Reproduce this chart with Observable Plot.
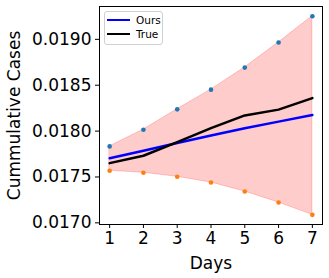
<!DOCTYPE html>
<html><head><meta charset="utf-8">
<script src="https://cdn.jsdelivr.net/npm/d3@7"></script>
<script src="https://cdn.jsdelivr.net/npm/@observablehq/plot@0.6"></script>
<style>
body{margin:0;background:#fff;font-family:"DejaVu Sans",sans-serif;}
#wrap{position:relative;width:329px;height:278px;}
#legend{position:absolute;left:104px;top:11px;width:57px;height:32px;border:1px solid #d0d0d0;border-radius:3px;background:rgba(255,255,255,0.8);font:10.5px "DejaVu Sans",sans-serif;z-index:2;}
.row{position:absolute;left:2px;display:flex;align-items:center;}
.sw{width:23px;height:0;border-top:2.5px solid;margin-right:6px;}
</style></head>
<body><div id="wrap"><div id="legend"><div class="row" style="top:2px"><span class="sw" style="border-color:#0000ff"></span>Ours</div><div class="row" style="top:16px"><span class="sw" style="border-color:#000"></span>True</div></div></div>
<script>
const days = [1,2,3,4,5,6,7];
const upper = [0.017833,0.018015,0.018237,0.018452,0.018692,0.018965,0.019252];
const lower = [0.017568,0.017546,0.017502,0.017440,0.017342,0.017222,0.017087];
const ours = [0.017705,0.017786,0.017870,0.017953,0.018030,0.018103,0.018175];
const truth = [0.017651,0.017731,0.017880,0.018033,0.018171,0.018234,0.018360];
const yTicks = [0.0170,0.0175,0.0180,0.0185,0.0190];
const xTicks = [1,2,3,4,5,6,7];

const rows = days.map((d,i)=>({day:d, hi:upper[i], lo:lower[i], ours:ours[i], truth:truth[i]}));

const chart = Plot.plot({
  width:329, height:278,
  marginLeft:99, marginRight:7, marginTop:6, marginBottom:54,
  style:{fontFamily:"DejaVu Sans", fontSize:"17px", color:"#000", background:"#fff"},
  x:{domain:[0.7,7.3], ticks:xTicks, tickFormat:d3.format("d"), label:"Days", labelAnchor:"center", labelArrow:"none", tickSize:4, tickPadding:3, labelOffset:44},
  y:{domain:[0.016982,0.019358], ticks:yTicks, tickFormat:d3.format(".4f"), label:"Cummulative Cases", labelAnchor:"center", labelArrow:"none", tickSize:4, tickPadding:4, labelOffset:92},
  marks:[
    Plot.areaY(rows,{x:"day", y1:"lo", y2:"hi", fill:"red", fillOpacity:0.2, stroke:"red", strokeOpacity:0.2, strokeWidth:1}),
    Plot.dot(rows,{x:"day", y:"hi", r:2.3, fill:"#1f77b4"}),
    Plot.dot(rows,{x:"day", y:"lo", r:2.3, fill:"#ff7f0e"}),
    Plot.line(rows,{x:"day", y:"ours", stroke:"#0000ff", strokeWidth:2.5}),
    Plot.line(rows,{x:"day", y:"truth", stroke:"#000", strokeWidth:2.5}),
    Plot.frame({stroke:"#000", strokeWidth:1})
  ]
});
document.getElementById("wrap").prepend(chart);
chart.style.position="absolute"; chart.style.left="0"; chart.style.top="0";
</script></body></html>
